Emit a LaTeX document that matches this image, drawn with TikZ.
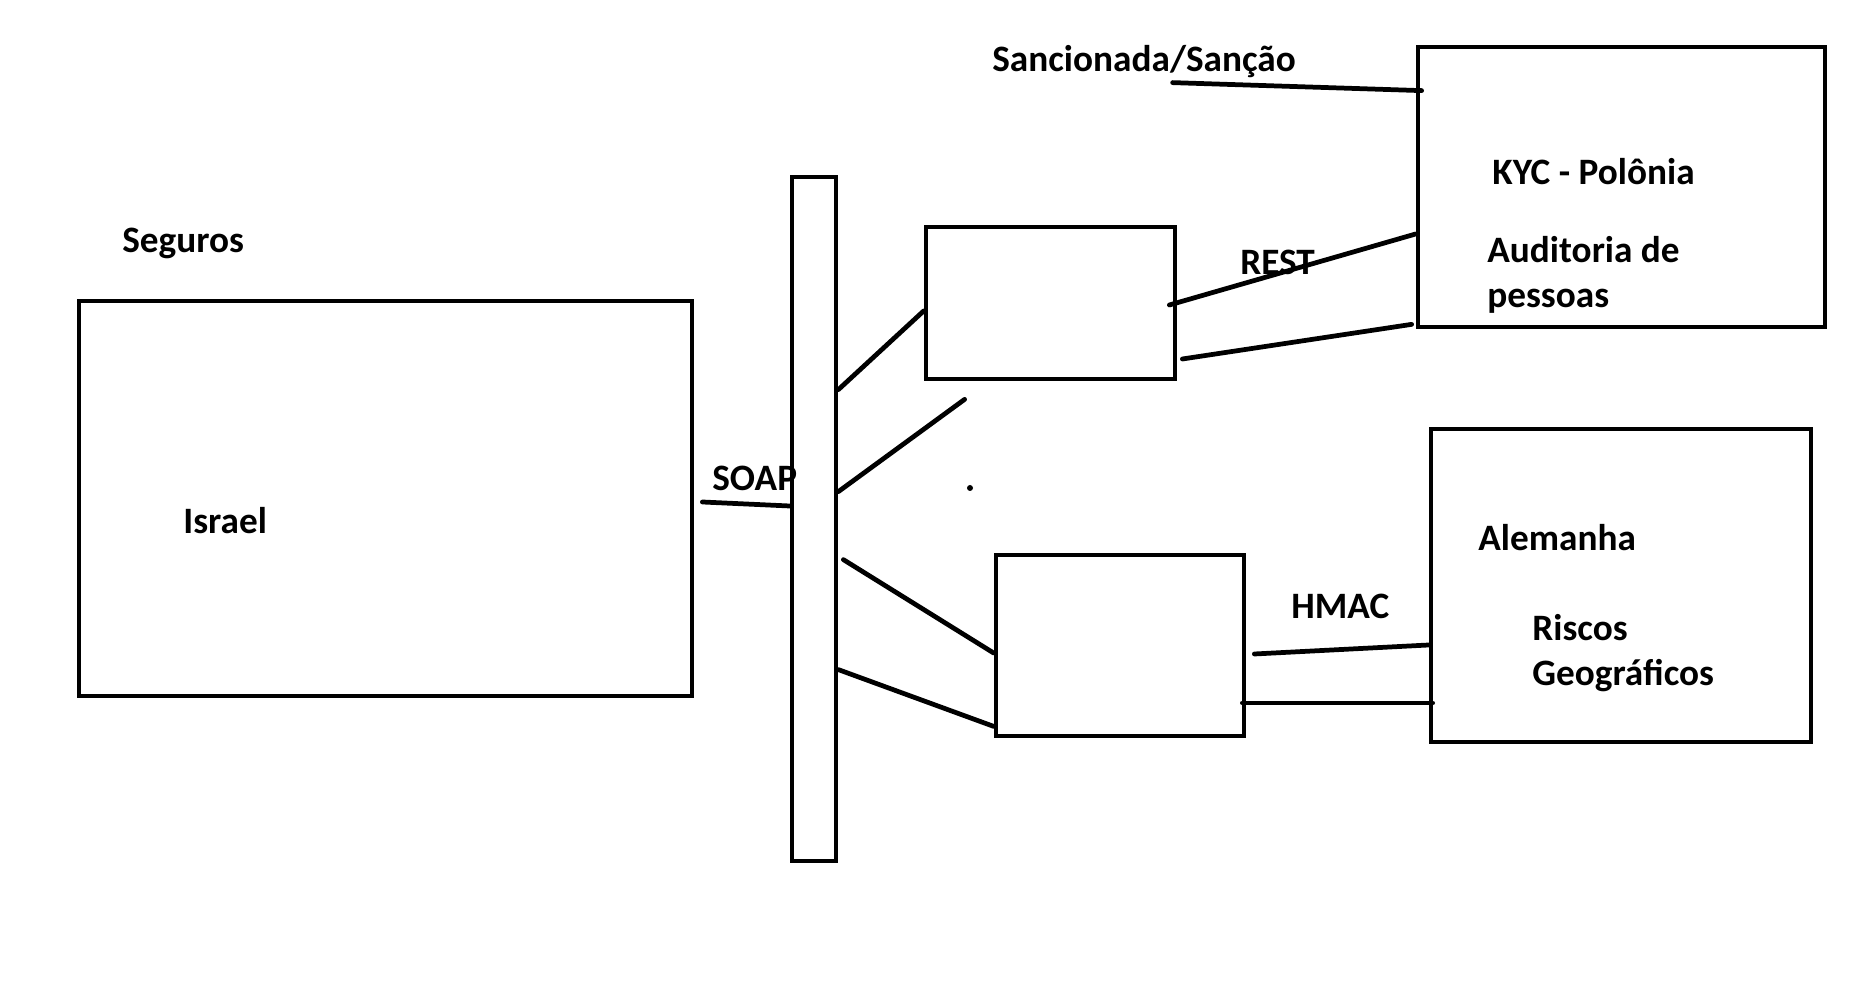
\documentclass[tikz,border=0pt]{standalone}
\usepackage{fontspec}
\setmainfont{Carlito}
\usetikzlibrary{calc}
\usetikzlibrary{positioning}

\begin{document}
\begin{tikzpicture}[line width=1.35pt, line cap=round,
    box/.style={draw, rectangle, inner sep=0pt},
    lbl/.style={anchor=west, inner sep=0pt, align=left,
        font=\fontsize{10.6}{12.8}\selectfont\bfseries}]
    \useasboundingbox (0,0) rectangle (18.52,-9.91);

    % boxes
    \node[box, minimum width=6.13cm, minimum height=3.95cm] (israel) at (3.855,-4.985) {};
    \node[box, minimum width=0.44cm, minimum height=6.84cm] (bus) at (8.14,-5.19) {};
    \node[box, minimum width=2.49cm, minimum height=1.52cm] (upbox) at (10.505,-3.03) {};
    \node[box, minimum width=2.48cm, minimum height=1.81cm] (lowbox) at (11.20,-6.455) {};
    \node[box, minimum width=4.07cm, minimum height=2.80cm] (kyc) at (16.215,-1.87) {};
    \node[box, minimum width=3.80cm, minimum height=3.13cm] (alem) at (16.21,-5.855) {};

    % labels
    \node[lbl] (seguros) at (1.20,-2.43) {Seguros};
    \node[lbl] (isr) at (1.81,-5.21) {Israel};
    \node[lbl] (soap) at (7.10,-4.78) {SOAP};
    \node[lbl] (sanc) at (9.90,-0.62) {Sancionada/Sanção};
    \node[lbl] (pol) at (14.90,-1.72) {KYC - Polônia};
    \node[lbl] (aud) at (14.85,-2.75) {Auditoria de\\pessoas};
    \node[lbl] (rest) at (12.38,-2.62) {REST};
    \node[lbl] (hmac) at (12.89,-6.06) {HMAC};
    \node[lbl] (ale) at (14.76,-5.38) {Alemanha};
    \node[lbl] (risc) at (15.30,-6.535) {Riscos\\Geográficos};

    % connectors
    \draw ($(israel.east)+(0.08,-0.035)$) -- ($(bus.west)+(0,0.13)$);
    \draw ($(bus.north east)+(0,-2.15)$) -- ($(upbox.west)+(0,-0.08)$);
    \draw ($(bus.north east)+(0,-3.17)$) -- ($(upbox.south west)+(0.41,-0.18)$);
    \draw ($(bus.north east)+(0.05,-3.85)$) -- ($(lowbox.west)+(0,-0.075)$);
    \draw ($(bus.north east)+(0,-4.95)$) -- ($(lowbox.south west)+(0,0.12)$);
    \draw ($(upbox.east)+(-0.08,-0.02)$) -- ($(kyc.west)+(0,-0.47)$);
    \draw ($(upbox.east)+(0.05,-0.56)$) -- ($(kyc.south west)+(-0.04,0.05)$);
    \draw ($(kyc.north west)+(-2.43,-0.38)$) -- ($(kyc.north west)+(0.06,-0.46)$);
    \draw ($(lowbox.east)+(0.08,-0.085)$) -- ($(alem.west)+(0,-0.595)$);
    \draw ($(lowbox.east)+(-0.04,-0.575)$) -- ($(alem.west)+(0.04,-1.175)$);
    \fill (9.70,-4.88) circle (0.03);
\end{tikzpicture}
\end{document}
